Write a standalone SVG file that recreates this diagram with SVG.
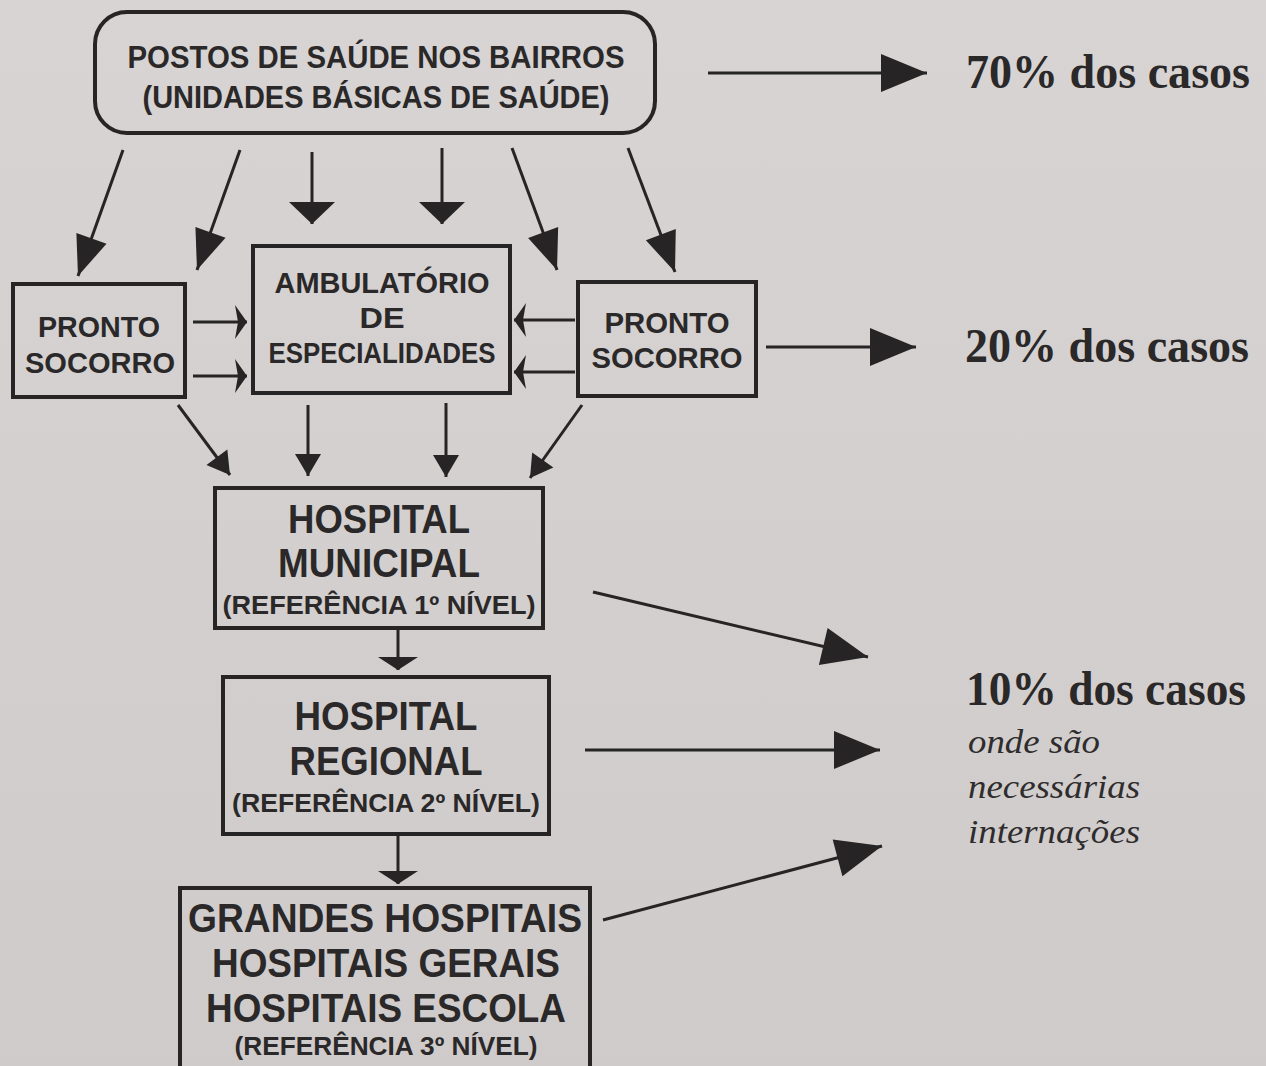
<svg xmlns="http://www.w3.org/2000/svg" width="1266" height="1066" viewBox="0 0 1266 1066">
<style>
.box{fill:none;stroke:#262424;stroke-width:4}
.ln{fill:none;stroke:#262424;stroke-width:3}
.hd{fill:#262424}
.sb{font-family:"Liberation Sans",Arial,sans-serif;font-weight:bold;fill:#2a2828;text-anchor:middle}
.sf{font-family:"Liberation Serif","Times New Roman",serif;font-weight:bold;fill:#2a2828}
.si{font-family:"Liberation Serif","Times New Roman",serif;font-style:italic;fill:#2e2c2c}
</style>
<defs>
<linearGradient id="bg" x1="0" y1="0" x2="0" y2="1">
<stop offset="0" stop-color="#d7d4d3"/>
<stop offset="1" stop-color="#cfcbca"/>
</linearGradient>
<marker id="big" markerUnits="userSpaceOnUse" orient="auto" refX="0" refY="0" markerWidth="50" markerHeight="40" overflow="visible"><path class="hd" d="M-46,-19 L0,0 L-46,19 Z"/></marker>
<marker id="mid" markerUnits="userSpaceOnUse" orient="auto" refX="0" refY="0" markerWidth="40" markerHeight="30" overflow="visible"><path class="hd" d="M-40,-16 L0,0 L-40,16 Z"/></marker>
<marker id="flat" markerUnits="userSpaceOnUse" orient="auto" refX="0" refY="0" markerWidth="30" markerHeight="50" overflow="visible"><path class="hd" d="M-22,-23 L0,0 L-22,23 Z"/></marker>
<marker id="small" markerUnits="userSpaceOnUse" orient="auto" refX="0" refY="0" markerWidth="30" markerHeight="30" overflow="visible"><path class="hd" d="M-22,-13 L0,0 L-22,13 Z"/></marker>
<marker id="flat2" markerUnits="userSpaceOnUse" orient="auto" refX="0" refY="0" markerWidth="20" markerHeight="44" overflow="visible"><path class="hd" d="M-13,-20 L0,0 L-13,20 Z"/></marker>
<marker id="thin" markerUnits="userSpaceOnUse" orient="auto" refX="0" refY="0" markerWidth="20" markerHeight="40" overflow="visible"><path class="hd" d="M-12,-17 L0,0 L-12,17 L-9,0 Z"/></marker>
</defs>
<rect x="0" y="0" width="1266" height="1066" fill="url(#bg)"/>

<g id="connectors">
<line class="ln" x1="123" y1="150" x2="78" y2="276" marker-end="url(#mid)"/>
<line class="ln" x1="240" y1="150" x2="197" y2="270" marker-end="url(#mid)"/>
<line class="ln" x1="312" y1="152" x2="312" y2="224" marker-end="url(#flat)"/>
<line class="ln" x1="442" y1="148" x2="442" y2="224" marker-end="url(#flat)"/>
<line class="ln" x1="512" y1="148" x2="557" y2="270" marker-end="url(#mid)"/>
<line class="ln" x1="628" y1="148" x2="675" y2="272" marker-end="url(#mid)"/>
<line class="ln" x1="193" y1="322" x2="247" y2="322" marker-end="url(#thin)"/>
<line class="ln" x1="193" y1="376" x2="247" y2="376" marker-end="url(#thin)"/>
<line class="ln" x1="575" y1="320" x2="514" y2="320" marker-end="url(#thin)"/>
<line class="ln" x1="575" y1="372" x2="514" y2="372" marker-end="url(#thin)"/>
<line class="ln" x1="178" y1="405" x2="230" y2="475" marker-end="url(#small)"/>
<line class="ln" x1="308" y1="405" x2="308" y2="476" marker-end="url(#small)"/>
<line class="ln" x1="446" y1="403" x2="446" y2="477" marker-end="url(#small)"/>
<line class="ln" x1="582" y1="405" x2="530" y2="478" marker-end="url(#small)"/>
<line class="ln" x1="398" y1="630" x2="398" y2="670" marker-end="url(#flat2)"/>
<line class="ln" x1="398" y1="836" x2="398" y2="884" marker-end="url(#flat2)"/>
<line class="ln" x1="708" y1="73" x2="927" y2="73" marker-end="url(#big)"/>
<line class="ln" x1="766" y1="347" x2="916" y2="347" marker-end="url(#big)"/>
<line class="ln" x1="593" y1="592" x2="868" y2="657" marker-end="url(#big)"/>
<line class="ln" x1="585" y1="750" x2="880" y2="750" marker-end="url(#big)"/>
<line class="ln" x1="603" y1="920" x2="882" y2="846" marker-end="url(#big)"/>
</g>

<g id="postos">
<rect class="box" x="95" y="12" width="560" height="121" rx="32"/>
<text class="sb" x="376" y="68" font-size="31" textLength="497" lengthAdjust="spacingAndGlyphs">POSTOS DE SAÚDE NOS BAIRROS</text>
<text class="sb" x="376" y="108" font-size="31" textLength="467" lengthAdjust="spacingAndGlyphs">(UNIDADES BÁSICAS DE SAÚDE)</text>
</g>

<g id="ps-left">
<rect class="box" x="13" y="284" width="172" height="113"/>
<text class="sb" x="99" y="337" font-size="30" textLength="122" lengthAdjust="spacingAndGlyphs">PRONTO</text>
<text class="sb" x="100" y="373" font-size="30" textLength="150" lengthAdjust="spacingAndGlyphs">SOCORRO</text>
</g>

<g id="ambulatorio">
<rect class="box" x="253" y="246" width="257" height="147"/>
<text class="sb" x="382" y="293" font-size="30" textLength="215" lengthAdjust="spacingAndGlyphs">AMBULATÓRIO</text>
<text class="sb" x="382" y="328" font-size="30" textLength="45" lengthAdjust="spacingAndGlyphs">DE</text>
<text class="sb" x="382" y="363" font-size="30" textLength="227" lengthAdjust="spacingAndGlyphs">ESPECIALIDADES</text>
</g>

<g id="ps-right">
<rect class="box" x="578" y="282" width="178" height="114"/>
<text class="sb" x="667" y="333" font-size="30" textLength="125" lengthAdjust="spacingAndGlyphs">PRONTO</text>
<text class="sb" x="667" y="368" font-size="30" textLength="151" lengthAdjust="spacingAndGlyphs">SOCORRO</text>
</g>

<g id="hosp-municipal">
<rect class="box" x="215" y="488" width="328" height="140"/>
<text class="sb" x="379" y="533" font-size="41" textLength="182" lengthAdjust="spacingAndGlyphs">HOSPITAL</text>
<text class="sb" x="379" y="577" font-size="41" textLength="202" lengthAdjust="spacingAndGlyphs">MUNICIPAL</text>
<text class="sb" x="379" y="614" font-size="26" textLength="313" lengthAdjust="spacingAndGlyphs">(REFERÊNCIA 1º NÍVEL)</text>
</g>

<g id="hosp-regional">
<rect class="box" x="223" y="677" width="326" height="157"/>
<text class="sb" x="386" y="730" font-size="41" textLength="183" lengthAdjust="spacingAndGlyphs">HOSPITAL</text>
<text class="sb" x="386" y="775" font-size="41" textLength="193" lengthAdjust="spacingAndGlyphs">REGIONAL</text>
<text class="sb" x="386" y="812" font-size="26" textLength="308" lengthAdjust="spacingAndGlyphs">(REFERÊNCIA 2º NÍVEL)</text>
</g>

<g id="grandes">
<rect class="box" x="180" y="888" width="410" height="190"/>
<text class="sb" x="385" y="932" font-size="41" textLength="394" lengthAdjust="spacingAndGlyphs">GRANDES HOSPITAIS</text>
<text class="sb" x="386" y="977" font-size="41" textLength="348" lengthAdjust="spacingAndGlyphs">HOSPITAIS GERAIS</text>
<text class="sb" x="386" y="1022" font-size="41" textLength="360" lengthAdjust="spacingAndGlyphs">HOSPITAIS ESCOLA</text>
<text class="sb" x="386" y="1055" font-size="26" textLength="303" lengthAdjust="spacingAndGlyphs">(REFERÊNCIA 3º NÍVEL)</text>
</g>

<g id="labels">
<text class="sf" x="966" y="88" font-size="48" textLength="284" lengthAdjust="spacingAndGlyphs">70% dos casos</text>
<text class="sf" x="965" y="362" font-size="48" textLength="284" lengthAdjust="spacingAndGlyphs">20% dos casos</text>
<text class="sf" x="966" y="705" font-size="48" textLength="280" lengthAdjust="spacingAndGlyphs">10% dos casos</text>
<text class="si" x="968" y="753" font-size="34" textLength="132" lengthAdjust="spacingAndGlyphs">onde são</text>
<text class="si" x="968" y="798" font-size="34" textLength="172" lengthAdjust="spacingAndGlyphs">necessárias</text>
<text class="si" x="968" y="843" font-size="34" textLength="172" lengthAdjust="spacingAndGlyphs">internações</text>
</g>
</svg>
